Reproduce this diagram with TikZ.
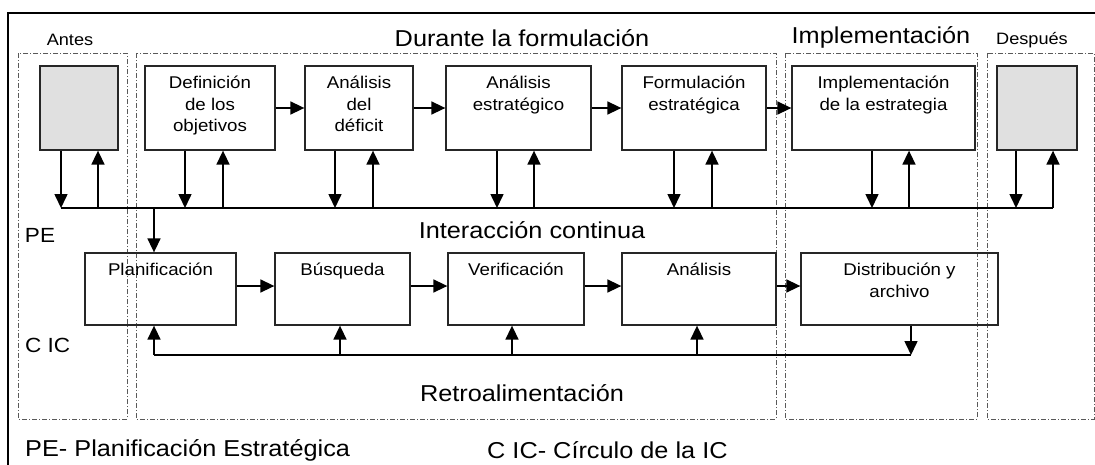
\documentclass[tikz,border=0pt]{standalone}
\usepackage{fontspec}
\setmainfont[FakeStretch=1.1]{Liberation Sans}
\usetikzlibrary{arrows.meta}
\tikzset{
  box/.style={draw=black!85, line width=1.3pt, inner sep=0pt, minimum height=84pt},
  lowbox/.style={draw=black!85, line width=1.3pt, inner sep=0pt, minimum height=72pt},
  grayfill/.style={fill=black!12},
  lbl/.style={anchor=north, align=center, inner sep=0pt, font=\fontsize{17}{21.5}\selectfont, yshift=-10.5pt},
  arr/.style={line width=1.6pt, -{Triangle[length=14pt,width=13pt]}},
  bus/.style={line width=1.5pt},
  region/.style={draw=black!65, line width=0.9pt, dash pattern=on 5pt off 2pt on 1pt off 2pt},
  big/.style={font=\fontsize{23}{27}\selectfont, inner sep=0pt},
  small/.style={font=\fontsize{16.5}{20}\selectfont, inner sep=0pt},
  mid/.style={font=\fontsize{20.5}{24}\selectfont, inner sep=0pt}
}
\begin{document}
\begin{tikzpicture}[x=1pt,y=-1pt]
\useasboundingbox (0,0) rectangle (1095,464);
% outer frame
\draw[line width=1.5pt] (8,470) -- (8,13) -- (1100,13);
% regions
\draw[region] (18,53) rectangle (127,419);
\draw[region] (136,53) rectangle (776,419);
\draw[region] (785,53) rectangle (977,419);
\draw[region] (987,53) rectangle (1094,419);
% titles
\node[small] (tAntes) at (70,40) {Antes};
\node[big] (tDur) at (522,38) {Durante la formulación};
\node[big] (tImp) at (881,37) {Implementación};
\node[small] (tDesp) at (1032,40) {Después};
% top boxes
\node[box, grayfill, minimum width=78pt] (ant) at (79,108) {};
\node[box, minimum width=130pt, label={[lbl]north:Definición\\de los\\objetivos}] (def) at (210,108) {};
\node[box, minimum width=108pt, label={[lbl]north:Análisis\\del\\déficit}] (dfc) at (359,108) {};
\node[box, minimum width=145pt, label={[lbl]north:Análisis\\estratégico}] (est) at (518.5,108) {};
\node[box, minimum width=144pt, label={[lbl]north:Formulación\\estratégica}] (frm) at (694,108) {};
\node[box, minimum width=183pt, label={[lbl]north:Implementación\\de la estrategia}] (imp) at (883.5,108) {};
\node[box, grayfill, minimum width=80pt] (dsp) at (1037,108) {};
% top horizontal arrows
\draw[arr] (def) -- (dfc);
\draw[arr] (dfc) -- (est);
\draw[arr] (est) -- (frm);
\draw[arr] (frm) -- (imp);
% bus coordinates
\coordinate (a1) at (61,208);  \coordinate (a2) at (98,208);
\coordinate (d1) at (185,208); \coordinate (d2) at (223,208);
\coordinate (e1) at (335,208); \coordinate (e2) at (373,208);
\coordinate (s1) at (497,208); \coordinate (s2) at (534,208);
\coordinate (f1) at (674,208); \coordinate (f2) at (712,208);
\coordinate (i1) at (872,208); \coordinate (i2) at (909,208);
\coordinate (p1) at (1016,208); \coordinate (p2) at (1053,208);
\coordinate (bp) at (154,208);
\draw[bus] (a1) -- (p2);
\foreach \b/\u/\n in {ant/a1/a2, def/d1/d2, dfc/e1/e2, est/s1/s2, frm/f1/f2, imp/i1/i2, dsp/p1/p2}{
  \draw[arr] (\b.south -| \u) -- (\u);
  \draw[arr] (\n) -- (\b.south -| \n);
}
% labels
\node[mid] (pe) at (40,235) {PE};
\node[big] (inter) at (532,230) {Interacción continua};
\node[mid, anchor=west] (cic) at (25,345) {C IC};
% bottom boxes
\node[lowbox, minimum width=151pt, label={[lbl]north:Planificación}] (pla) at (160.5,289) {};
\node[lowbox, minimum width=135pt, label={[lbl]north:Búsqueda}] (bus) at (342.5,289) {};
\node[lowbox, minimum width=136pt, label={[lbl]north:Verificación}] (ver) at (516,289) {};
\node[lowbox, minimum width=154pt, label={[lbl]north:Análisis}] (ana) at (699,289) {};
\node[lowbox, minimum width=197pt, label={[lbl]north:Distribución y\\archivo}] (dis) at (899.5,289) {};
\draw[arr] (bp) -- (pla.north -| bp);
\draw[arr] ([yshift=3pt]pla.east) -- ([yshift=3pt]bus.west);
\draw[arr] ([yshift=3pt]bus.east) -- ([yshift=3pt]ver.west);
\draw[arr] ([yshift=3pt]ver.east) -- ([yshift=3pt]ana.west);
\draw[arr] ([yshift=3pt]ana.east) -- ([yshift=3pt]dis.west);
% feedback
\coordinate (r0) at (154,355);
\coordinate (r1) at (340,355);
\coordinate (r2) at (512,355);
\coordinate (r3) at (697,355);
\coordinate (r4) at (911,355);
\draw[bus] (r0) -- (r4);
\draw[arr] (dis.south -| r4) -- (r4);
\draw[arr] (r0) -- (pla.south -| r0);
\draw[arr] (r1) -- (bus.south -| r1);
\draw[arr] (r2) -- (ver.south -| r2);
\draw[arr] (r3) -- (ana.south -| r3);
\node[big] (retro) at (522,393) {Retroalimentación};
% legend
\node[big, anchor=west] (leg1) at (25,450) {PE- Planificación Estratégica};
\node[big, anchor=west] (leg2) at (487,450) {C IC- Círculo de la IC};
\end{tikzpicture}
\end{document}
